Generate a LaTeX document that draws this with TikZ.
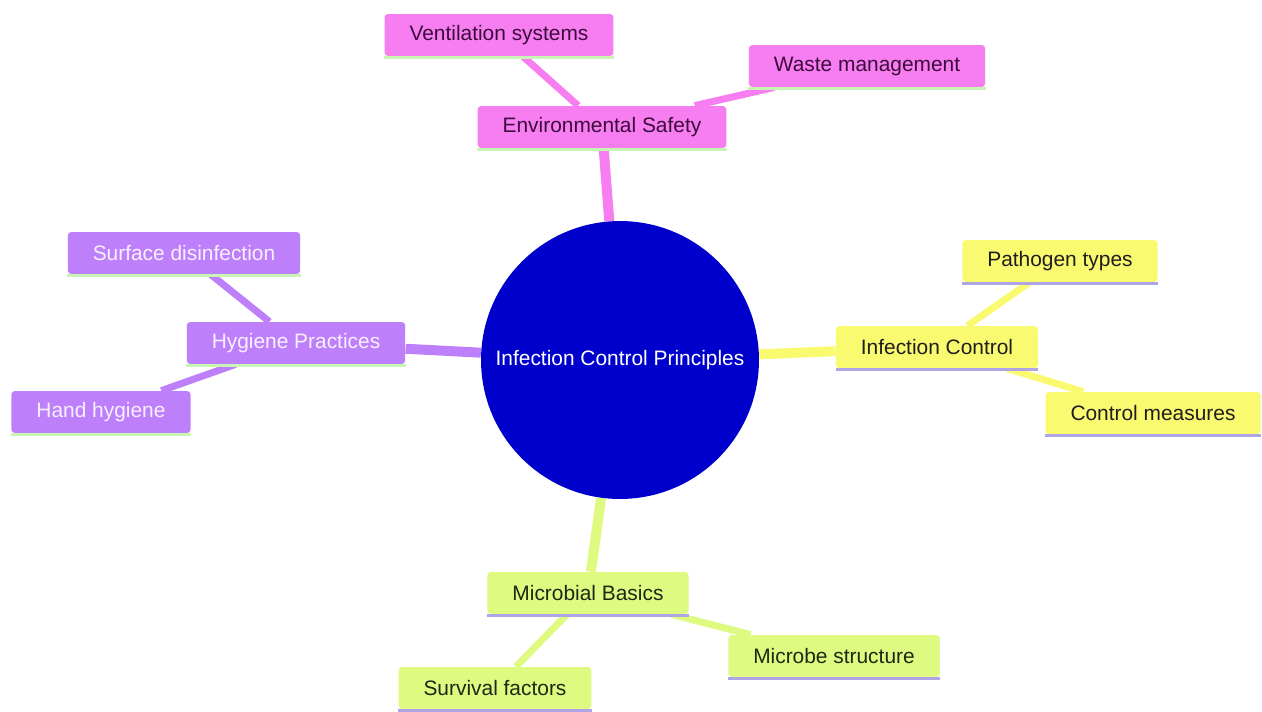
\documentclass[tikz,border=0pt]{standalone}
\usepackage{fontspec}
\setmainfont{Liberation Sans}
\usetikzlibrary{positioning, backgrounds}

\definecolor{rootblue}{RGB}{0,0,205}
\definecolor{pinkbox}{RGB}{247,126,240}
\definecolor{purplebox}{RGB}{190,128,250}
\definecolor{yellowbox}{RGB}{250,250,112}
\definecolor{greenbox}{RGB}{222,250,128}
\definecolor{mintline}{RGB}{200,245,180}
\definecolor{lilacline}{RGB}{175,165,230}

\begin{document}
\begin{tikzpicture}[x=0.02cm, y=-0.02cm,
    topic/.style={rectangle, rounded corners=2pt, minimum height=0.84cm, inner xsep=0.5cm,
        font=\fontsize{11.9}{14}\selectfont},
    pinktopic/.style={topic, fill=pinkbox, text={rgb,255:red,60;green,10;blue,60}},
    purpletopic/.style={topic, fill=purplebox, text={rgb,255:red,248;green,240;blue,255}},
    yellowtopic/.style={topic, fill=yellowbox, text={rgb,255:red,30;green,30;blue,30}},
    greentopic/.style={topic, fill=greenbox, text={rgb,255:red,30;green,40;blue,20}},
    mainlink/.style={line width=0.2cm},
    sublink/.style={line width=0.14cm}]
    \useasboundingbox (0,0) rectangle (1262,711);

    % Central topic
    \node[circle, fill=rootblue, text=white, minimum size=5.56cm, inner sep=0pt,
        font=\fontsize{11.9}{14}\selectfont] (root) at (620,360) {Infection Control Principles};

    % Environmental Safety branch
    \node[pinktopic] (env) at (602,127) {Environmental Safety};
    \node[pinktopic] (vent) at (499,35) {Ventilation systems};
    \node[pinktopic] (waste) at (867,66) {Waste management};

    % Hygiene Practices branch
    \node[purpletopic] (hyg) at (296,343) {Hygiene Practices};
    \node[purpletopic] (surf) at (184,253) {Surface disinfection};
    \node[purpletopic] (hand) at (101,412) {Hand hygiene};

    % Infection Control branch
    \node[yellowtopic] (ic) at (937,347) {Infection Control};
    \node[yellowtopic] (path) at (1060,261) {Pathogen types};
    \node[yellowtopic] (meas) at (1153,413) {Control measures};

    % Microbial Basics branch
    \node[greentopic] (mic) at (588,593) {Microbial Basics};
    \node[greentopic] (struct) at (834,656) {Microbe structure};
    \node[greentopic] (surv) at (495,688) {Survival factors};

    % underlines
    \foreach \n/\c in {env/mintline, vent/mintline, waste/mintline,
                       hyg/mintline, surf/mintline, hand/mintline,
                       ic/lilacline, path/lilacline, meas/lilacline,
                       mic/lilacline, struct/lilacline, surv/lilacline}
        \draw[\c, line width=0.06cm] ([yshift=-0.03cm]\n.south west) -- ([yshift=-0.03cm]\n.south east);

    % connectors behind the boxes
    \begin{pgfonlayer}{background}
        \draw[pinkbox, mainlink] (root) -- (env);
        \draw[pinkbox, sublink] (env) -- (vent);
        \draw[pinkbox, sublink] (env) -- (waste);
        \draw[purplebox, mainlink] (root) -- (hyg);
        \draw[purplebox, sublink] (hyg) -- (surf);
        \draw[purplebox, sublink] (hyg) -- (hand);
        \draw[yellowbox, mainlink] (root) -- (ic);
        \draw[yellowbox, sublink] (ic) -- (path);
        \draw[yellowbox, sublink] (ic) -- (meas);
        \draw[greenbox, mainlink] (root) -- (mic);
        \draw[greenbox, sublink] (mic) -- (struct);
        \draw[greenbox, sublink] (mic) -- (surv);
    \end{pgfonlayer}
\end{tikzpicture}
\end{document}
